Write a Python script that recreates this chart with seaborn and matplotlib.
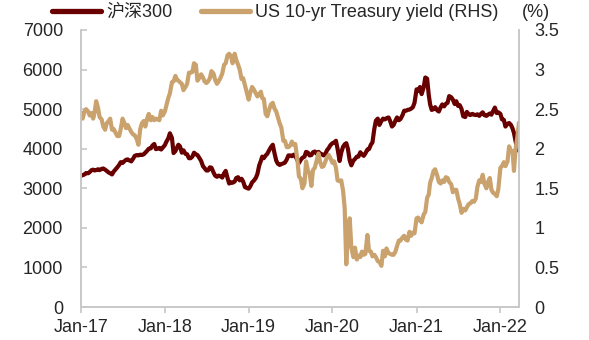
import numpy as np
import pandas as pd
import matplotlib
matplotlib.use("Agg")
import matplotlib.pyplot as plt
import matplotlib.dates as mdates
import seaborn as sns

# ---- data (4 readings per month, days 1/8/16/23) ----
csi_2017 = [3320, 3330, 3350, 3385, 3380, 3410, 3460, 3470, 3450, 3460, 3480, 3460,
            3490, 3500, 3470, 3440, 3400, 3380, 3350, 3420, 3480, 3530, 3590, 3660,
            3640, 3680, 3720, 3730, 3700, 3680, 3750, 3820, 3840, 3830, 3850, 3840,
            3860, 3900, 3950, 4000, 4010, 4080, 4120, 3990, 4000, 4020, 3980, 4030]
csi_2018 = [4090, 4180, 4260, 4390, 4270, 3890, 3940, 4030, 4100, 4060, 3900, 3960,
            3870, 3860, 3760, 3760, 3800, 3900, 3860, 3840, 3760, 3690, 3560, 3510,
            3450, 3450, 3530, 3520, 3400, 3320, 3290, 3320, 3300, 3270, 3380, 3440,
            3260, 3120, 3150, 3140, 3170, 3260, 3280, 3200, 3240, 3170, 3030, 3010]
csi_2019 = [2990, 3050, 3150, 3190, 3260, 3360, 3580, 3690, 3800, 3760, 3830, 3870,
            3970, 4040, 4100, 3900, 3700, 3620, 3590, 3610, 3630, 3650, 3730, 3830,
            3830, 3810, 3850, 3820, 3710, 3640, 3720, 3770, 3800, 3920, 3900, 3830,
            3840, 3910, 3930, 3880, 3920, 3880, 3860, 3830, 3870, 3960, 4020, 4090]
csi_2020 = [4140, 4160, 4200, 4000, 3690, 3900, 4050, 4110, 4140, 4000, 3700, 3580,
            3700, 3740, 3800, 3800, 3910, 3860, 3820, 3880, 3980, 3990, 4100, 4160,
            4500, 4710, 4760, 4600, 4700, 4760, 4740, 4770, 4790, 4700, 4560, 4600,
            4710, 4790, 4720, 4750, 4850, 4960, 4960, 4980, 4990, 5010, 5050, 5160]
csi_2021 = [5500, 5460, 5560, 5380, 5550, 5800, 5770, 5360, 5120, 4980, 5000, 5050,
            4970, 4940, 5050, 5120, 5070, 5130, 5160, 5330, 5300, 5240, 5130, 5200,
            5080, 5100, 5000, 4820, 4800, 4930, 4870, 4850, 4880, 4860, 4850, 4870,
            4830, 4880, 4920, 4850, 4830, 4860, 4890, 4860, 4960, 5040, 4900, 4920]
csi_2022 = [4880, 4740, 4730, 4560, 4630, 4650, 4600, 4510, 4400, 4190, 3960, 4220]

ust_2017 = [2.45, 2.38, 2.47, 2.50, 2.47, 2.42, 2.45, 2.38, 2.45, 2.60, 2.52, 2.40,
            2.37, 2.28, 2.24, 2.32, 2.35, 2.38, 2.24, 2.25, 2.20, 2.16, 2.16, 2.25,
            2.38, 2.33, 2.26, 2.30, 2.25, 2.21, 2.18, 2.17, 2.12, 2.05, 2.25, 2.32,
            2.35, 2.28, 2.38, 2.44, 2.36, 2.40, 2.36, 2.38, 2.37, 2.36, 2.48, 2.42]
ust_2018 = [2.47, 2.55, 2.64, 2.70, 2.84, 2.85, 2.92, 2.87, 2.86, 2.84, 2.82, 2.74,
            2.78, 2.82, 2.96, 2.96, 2.97, 3.08, 3.06, 2.86, 2.90, 2.94, 2.90, 2.85,
            2.83, 2.85, 2.89, 2.98, 2.95, 2.87, 2.82, 2.85, 2.90, 2.95, 3.06, 3.08,
            3.18, 3.20, 3.17, 3.08, 3.20, 3.12, 3.06, 3.00, 2.88, 2.89, 2.80, 2.72]
ust_2019 = [2.62, 2.71, 2.78, 2.75, 2.70, 2.66, 2.69, 2.72, 2.64, 2.63, 2.44, 2.41,
            2.50, 2.56, 2.58, 2.51, 2.47, 2.40, 2.32, 2.27, 2.10, 2.10, 2.02, 2.02,
            2.04, 2.09, 2.05, 2.06, 1.86, 1.65, 1.62, 1.50, 1.56, 1.84, 1.72, 1.69,
            1.53, 1.73, 1.76, 1.84, 1.94, 1.83, 1.77, 1.78, 1.84, 1.89, 1.92, 1.88]
ust_2020 = [1.82, 1.84, 1.76, 1.60, 1.59, 1.60, 1.47, 1.25, 0.54, 0.94, 1.12, 0.75,
            0.63, 0.75, 0.60, 0.65, 0.63, 0.70, 0.66, 0.67, 0.91, 0.71, 0.70, 0.64,
            0.66, 0.63, 0.58, 0.57, 0.52, 0.71, 0.64, 0.74, 0.68, 0.67, 0.66, 0.66,
            0.70, 0.77, 0.84, 0.84, 0.88, 0.90, 0.85, 0.84, 0.95, 0.90, 0.94, 0.93]
ust_2021 = [1.12, 1.13, 1.09, 1.07, 1.17, 1.20, 1.38, 1.42, 1.57, 1.63, 1.72, 1.74,
            1.66, 1.58, 1.56, 1.60, 1.58, 1.64, 1.63, 1.58, 1.55, 1.45, 1.48, 1.48,
            1.37, 1.30, 1.19, 1.24, 1.22, 1.26, 1.30, 1.31, 1.34, 1.33, 1.37, 1.52,
            1.60, 1.58, 1.67, 1.56, 1.50, 1.58, 1.63, 1.48, 1.44, 1.43, 1.40, 1.49]
ust_2022 = [1.76, 1.78, 1.83, 1.78, 1.84, 2.03, 1.97, 1.97, 1.72, 1.99, 2.15, 2.33]

obs_days = [1, 8, 16, 23]
months = pd.date_range("2017-01-01", "2022-03-01", freq="MS")
dates = [m + pd.Timedelta(days=d - 1) for m in months for d in obs_days]

csi = csi_2017 + csi_2018 + csi_2019 + csi_2020 + csi_2021 + csi_2022
ust = ust_2017 + ust_2018 + ust_2019 + ust_2020 + ust_2021 + ust_2022
df = pd.DataFrame({"date": dates, "csi": csi, "ust": ust})

label_csi = "沪深300"
label_ust = "US 10-yr Treasury yield (RHS)"

# ---- style ----
sns.set_theme(style="white")
plt.rcParams["font.family"] = ["Liberation Sans", "Noto Sans CJK SC", "DejaVu Sans"]
plt.rcParams["axes.unicode_minus"] = False

RED = "#680000"
TAN = "#C9A26E"
GRID = "#C8C8C8"
FS = 13

fig = plt.figure(figsize=(5.89, 3.40), dpi=100)
ax = fig.add_axes([81 / 589, 1 - 307 / 340, (519 - 81) / 589, (307 - 30) / 340])
ax2 = ax.twinx()

sns.lineplot(data=df, x="date", y="csi", ax=ax, color=RED, linewidth=3.0, label=label_csi, legend=False)
sns.lineplot(data=df, x="date", y="ust", ax=ax2, color=TAN, linewidth=3.0, label=label_ust, legend=False)

ax.set_ylim(0, 7000)
ax2.set_ylim(0, 3.5)
ax.set_yticks(np.arange(0, 7001, 1000))
ax2.set_yticks([0, 0.5, 1, 1.5, 2, 2.5, 3, 3.5])
ax2.set_yticklabels(["0", "0.5", "1", "1.5", "2", "2.5", "3", "3.5"])
ax.set_xlim(dates[0], dates[-1])
ax.xaxis.set_major_locator(mdates.YearLocator(month=1, day=1))
ax.xaxis.set_major_formatter(mdates.DateFormatter("%b-%y"))

for a in (ax, ax2):
    a.set_xlabel("")
    a.set_ylabel("")
    for s in a.spines.values():
        s.set_color(GRID)
        s.set_linewidth(1.2)
    a.spines["top"].set_visible(False)

ax.tick_params(axis="y", direction="in", length=4, color=GRID, labelsize=FS, pad=13)
ax.tick_params(axis="x", direction="out", length=4, color=GRID, labelsize=FS, pad=5, bottom=True)
ax2.tick_params(axis="y", length=0, labelsize=FS, pad=11)
ax.grid(False)
ax2.grid(False)

h1, l1 = ax.get_legend_handles_labels()
h2, l2 = ax2.get_legend_handles_labels()
leg = fig.legend(h1 + h2, l1 + l2, loc="center left", bbox_to_anchor=(0.088, 0.963),
                 ncol=2, frameon=False, fontsize=FS, handlelength=2.7,
                 handletextpad=0.3, columnspacing=1.6, borderpad=0, borderaxespad=0)
for lh in leg.get_lines():
    lh.set_linewidth(3.8)

fig.text(536 / 589, 0.963, "(%)", ha="center", va="center", fontsize=FS)

fig.savefig("out.png", dpi=100)
